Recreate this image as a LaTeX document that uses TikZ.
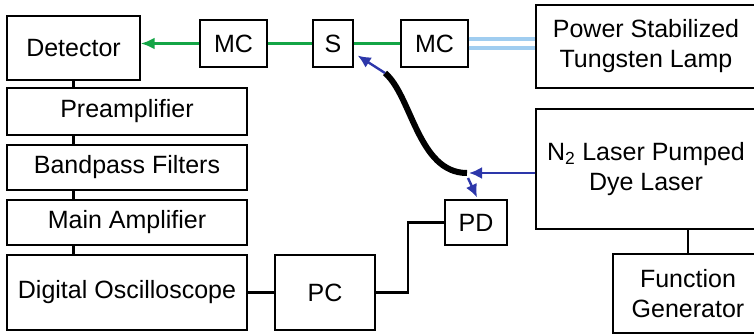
\documentclass[tikz,border=0pt]{standalone}
\usepackage{fontspec}
\setmainfont{Liberation Sans}
\usetikzlibrary{arrows.meta,calc}
\definecolor{beamgreen}{RGB}{20,165,70}
\definecolor{fiberblue}{RGB}{45,55,170}
\definecolor{lampblue}{RGB}{160,205,240}
\tikzset{
  box/.style={draw=black, line width=1.3pt, inner sep=0pt, align=center,
    font=\fontsize{25}{30}\selectfont},
  wire/.style={draw=black, line width=2.6pt},
  greenbeam/.style={draw=beamgreen, line width=2.8pt},
  bluearrow/.style={draw=fiberblue, line width=2.4pt,
    -{Latex[length=13pt,width=12pt]}},
  fiber/.style={draw=black, line width=6pt},
}
\begin{document}
\begin{tikzpicture}[x=1pt,y=-1pt]
\useasboundingbox (0,0) rectangle (754,335);
\clip (0,0) rectangle (754,335);

% detection chain
\node[box, minimum width=133pt, minimum height=64pt] (det) at (73.5,48) {Detector};
\node[box, minimum width=240pt, minimum height=47pt] (pre) at (127,111.5) {Preamplifier};
\node[box, minimum width=240pt, minimum height=45pt] (bp) at (127,167.5) {Bandpass Filters};
\node[box, minimum width=240pt, minimum height=45pt] (ma) at (127,222.5) {Main Amplifier};
\node[box, minimum width=240pt, minimum height=75pt] (dso) at (127,292.5) {Digital Oscilloscope};
\node[box, minimum width=100pt, minimum height=75pt] (pc) at (325,292.5) {PC};
\node[box, minimum width=62pt, minimum height=45pt] (pd) at (476,222.5) {PD};

% optical path
\node[box, minimum width=67pt, minimum height=47pt] (mc1) at (233.5,43.5) {MC};
\node[box, minimum width=40pt, minimum height=47pt] (s) at (333,43.5) {S};
\node[box, minimum width=67pt, minimum height=47pt] (mc2) at (434.5,43.5) {MC};

% sources
\node[box, minimum width=220pt, minimum height=83pt] (lamp) at (646,46.5) {Power Stabilized\\Tungsten Lamp};
\node[box, minimum width=220pt, minimum height=120pt] (laser) at (646,169) {N\textsubscript{2} Laser Pumped\\Dye Laser};
\node[box, minimum width=150pt, minimum height=79pt] (fg) at (688,293.5) {Function\\Generator};

% electrical connections
\draw[wire] (det.south) -- (det.south |- pre.north);
\draw[wire] (det.south |- pre.south) -- (det.south |- bp.north);
\draw[wire] (det.south |- bp.south) -- (det.south |- ma.north);
\draw[wire] (det.south |- ma.south) -- (det.south |- dso.north);
\draw[wire] (dso.east) -- (pc.west);
\coordinate (bend) at (408,222.5);
\draw[wire] (pc.east) -| (bend) -- (pd.west);
\draw[wire] (fg.north) -- (fg.north |- laser.south);

% light from the lamp
\draw[draw=lampblue, line width=4pt] ($(mc2.east)+(0,-4.5)$) -- ($(lamp.west |- mc2.east)+(0,-4.5)$);
\draw[draw=lampblue, line width=4pt] ($(mc2.east)+(0,4.5)$) -- ($(lamp.west |- mc2.east)+(0,4.5)$);

% green probe beam
\draw[greenbeam] (mc2.west) -- (s.east);
\draw[greenbeam] (s.west) -- (mc1.east);
\draw[greenbeam, -{Latex[length=14pt,width=12pt]}] (mc1.west) -- (mc1.west -| det.east);

% optical fibre carrying the dye laser pulse
\coordinate (fa) at (385,73);
\coordinate (fb) at (467,173);
\draw[fiber] (fa) .. controls (412,96) and (418,173) .. (fb);
\draw[bluearrow] (fa) -- ($(s.east)+(4,12)$);
\draw[bluearrow] (laser.west |- fb) -- ($(fb)+(2,0)$);
\draw[bluearrow] ($(fb)+(1,5)$) -- ($(pd.north)+(1,-2)$);
\end{tikzpicture}
\end{document}
